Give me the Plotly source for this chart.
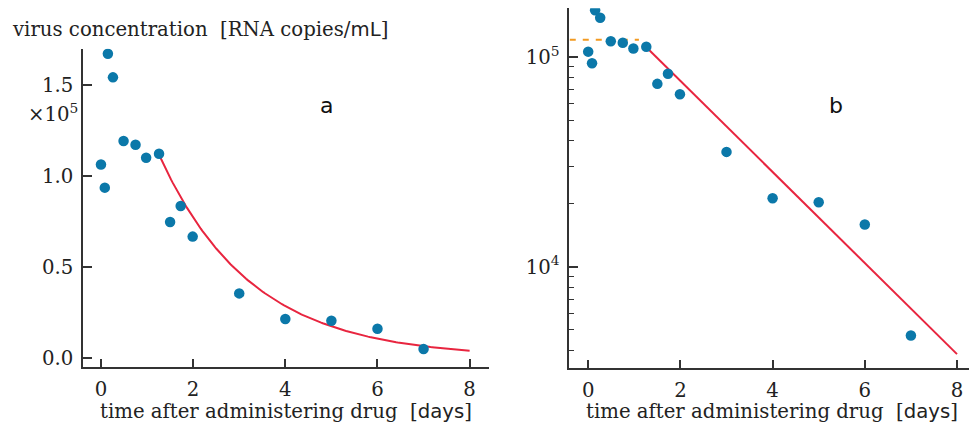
import numpy as np
import plotly.graph_objects as go

# ---- data ----
t_days = [0.0, 0.083, 0.15, 0.26, 0.49, 0.75, 0.98, 1.26, 1.5, 1.73, 1.99, 3.0, 4.0, 5.0, 6.0, 7.0]
virus = [106100, 93400, 167000, 154000, 119000, 117000, 109800, 112000,
         74500, 83300, 66500, 35300, 21200, 20300, 15900, 4700]

# fitted exponential decay model (parameters)
fit_t0 = 1.25
fit_V0 = 112000
fit_k = 0.5
fit_tend = 8.0

# plateau (orange dashed) level
plateau_level = 121000
plateau_t = [-0.4, 1.1]

left_yticks = [0, 50000, 100000, 150000]
left_yticklabels = ["0.0", "0.5", "1.0", "1.5"]
xticks = [0, 2, 4, 6, 8]

# ---- styles ----
BLUE = "#0B78A9"
RED = "#E8253F"
ORANGE = "#F29A22"
AXC = "#333333"
SERIF = "DejaVu Serif, serif"
SANS = "DejaVu Sans, Noto Sans, sans-serif"
FS = 19.7

fit_t = np.linspace(fit_t0, fit_tend, 200)
fit_V = fit_V0 * np.exp(-fit_k * (fit_t - fit_t0))

fig = go.Figure()

# left panel
fig.add_trace(go.Scatter(x=fit_t, y=fit_V, mode="lines", line=dict(color=RED, width=2),
                         xaxis="x", yaxis="y", showlegend=False))
fig.add_trace(go.Scatter(x=t_days, y=virus, mode="markers",
                         marker=dict(color=BLUE, size=10.5, line=dict(width=0)),
                         xaxis="x", yaxis="y", showlegend=False))

# right panel
fig.add_trace(go.Scatter(x=plateau_t, y=[plateau_level, plateau_level], mode="lines",
                         line=dict(color=ORANGE, width=2, dash="6px,7px"),
                         xaxis="x2", yaxis="y2", showlegend=False))
fig.add_trace(go.Scatter(x=fit_t, y=fit_V, mode="lines", line=dict(color=RED, width=2),
                         xaxis="x2", yaxis="y2", showlegend=False))
fig.add_trace(go.Scatter(x=t_days, y=virus, mode="markers",
                         marker=dict(color=BLUE, size=10.5, line=dict(width=0)),
                         xaxis="x2", yaxis="y2", showlegend=False))

W, H = 969, 427

def px(x):
    return x / W

def py(y):
    return 1 - y / H

axis_common = dict(showline=True, linecolor=AXC, linewidth=1.5, ticks="inside",
                   ticklen=9, tickwidth=1.5, tickcolor=AXC, showgrid=False, zeroline=False,
                   tickfont=dict(family=SERIF, size=FS, color="#222"))

minor_vals = [m * 10 ** e for e in (3, 4) for m in range(2, 10)]

fig.update_layout(
    width=W, height=H, margin=dict(l=0, r=0, t=0, b=0),
    paper_bgcolor="white", plot_bgcolor="white",
    xaxis=dict(domain=[px(83), px(489)], range=[-0.39, 8.42], anchor="y",
               tickvals=xticks, ticklabelstandoff=3, **axis_common),
    yaxis=dict(domain=[py(369), py(49)], range=[-5300, 169700], anchor="x",
               tickvals=left_yticks, ticktext=left_yticklabels, ticklabelstandoff=4, **axis_common),
    xaxis2=dict(domain=[px(569.3), 1.0], range=[-0.41, 8.26], anchor="y2",
                tickvals=xticks, ticklabelstandoff=3, **axis_common),
    yaxis2=dict(domain=[py(370), py(8.3)], type="log", range=[3.516, 5.2326], anchor="x2",
                tickvals=[1e4, 1e5], ticktext=["10<sup>4</sup>", "10<sup>5</sup>"],
                ticklabelstandoff=4,
                minor=dict(tickmode="array", tickvals=minor_vals, ticks="inside",
                           ticklen=5, tickwidth=1.2, tickcolor=AXC, showgrid=False),
                **axis_common),
)

ann = []
ann.append(dict(x=px(10), y=py(30), xref="paper", yref="paper", xanchor="left", yanchor="middle",
                text='virus concentration  [RNA copies/<span style="font-family:DejaVu Sans">mL</span>]',
                showarrow=False, font=dict(family=SERIF, size=FS, color="#222")))
ann.append(dict(x=px(80), y=py(114), xref="paper", yref="paper", xanchor="right", yanchor="middle",
                text="×10<sup>5</sup>", showarrow=False, font=dict(family=SERIF, size=FS, color="#222")))
xt = 'time after administering drug  [<span style="font-family:DejaVu Sans">days</span>]'
ann.append(dict(x=px(286), y=py(413), xref="paper", yref="paper", xanchor="center", yanchor="middle",
                text=xt, showarrow=False, font=dict(family=SERIF, size=FS, color="#222")))
ann.append(dict(x=px(772), y=py(413), xref="paper", yref="paper", xanchor="center", yanchor="middle",
                text=xt, showarrow=False, font=dict(family=SERIF, size=FS, color="#222")))
ann.append(dict(x=px(326), y=py(106), xref="paper", yref="paper", xanchor="center", yanchor="middle",
                text="a", showarrow=False, font=dict(family=SANS, size=22, color="#111")))
ann.append(dict(x=px(836), y=py(106), xref="paper", yref="paper", xanchor="center", yanchor="middle",
                text="b", showarrow=False, font=dict(family=SANS, size=22, color="#111")))
fig.update_layout(annotations=ann)

fig.write_html("out.html")
